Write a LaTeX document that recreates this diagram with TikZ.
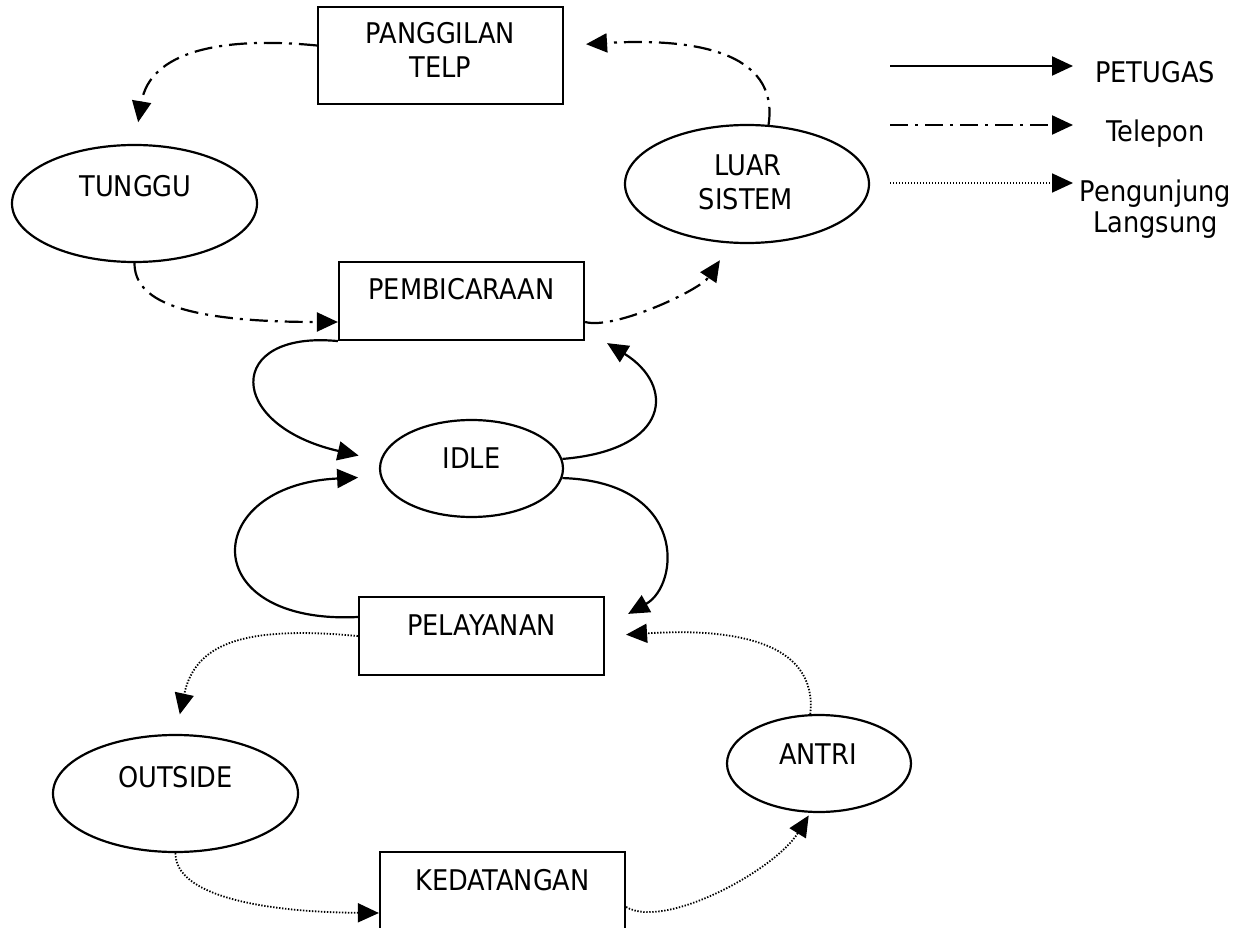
\documentclass[tikz,border=0pt]{standalone}
\usepackage{fontspec}
\setmainfont{DejaVu Sans Condensed}
\usetikzlibrary{arrows.meta,calc,shapes.geometric}

\begin{document}
\begin{tikzpicture}[x=1pt,y=-1pt,
  tipstyle/.style={-{Triangle[length=21pt,width=19pt]}},
  statebox/.style={draw, rectangle, line width=2.2pt, minimum width=245pt, minimum height=#1, inner sep=0pt},
  stateoval/.style 2 args={draw, ellipse, line width=2.2pt, minimum width=#1, minimum height=#2, inner sep=0pt},
  lbl/.style={font=\fontsize{28.5pt}{34pt}\selectfont, inner sep=0pt, anchor=base},
  petugas/.style={draw, line width=2.2pt, tipstyle},
  telepon/.style={draw, line width=2.2pt, dash pattern=on 18pt off 7pt on 3pt off 7pt, tipstyle},
  pengunjung/.style={draw, line width=1.8pt, dash pattern=on 1.4pt off 1.6pt, tipstyle}]

\useasboundingbox (0,0) rectangle (1235,928);

% states
\node[statebox=97pt] (pang) at (440.5,55.5) {};
\node[statebox=78pt] (pemb) at (461.5,301) {};
\node[statebox=78pt] (pel) at (481.5,636) {};
\node[statebox=78pt] (ked) at (502.5,891) {};
\node[stateoval={245pt}{117pt}] (tunggu) at (134.5,203.5) {};
\node[stateoval={244pt}{118pt}] (luar) at (747,184) {};
\node[stateoval={183pt}{97pt}] (idle) at (471.5,468.5) {};
\node[stateoval={245pt}{117pt}] (outside) at (175.5,793.5) {};
\node[stateoval={184pt}{97pt}] (antri) at (819,763.5) {};

% state names
\node[lbl] (pangA) at (440.5,44) {PANGGILAN};
\node[lbl] (pangB) at (440.5,78) {TELP};
\node[lbl] (pembT) at (461.5,300) {PEMBICARAAN};
\node[lbl] (pelT) at (481.5,635) {PELAYANAN};
\node[lbl] (kedT) at (502.5,890) {KEDATANGAN};
\node[lbl] (tungguT) at (135.5,197) {TUNGGU};
\node[lbl] (luarA) at (748,176) {LUAR};
\node[lbl] (luarB) at (746,210) {SISTEM};
\node[lbl] (idleT) at (471.5,468) {IDLE};
\node[lbl] (outsideT) at (175.5,787) {OUTSIDE};
\node[lbl] (antriT) at (818,764) {ANTRI};

% telephone flow
\draw[telepon, shorten >=22pt] ($(pang.west)+(0,-10)$) .. controls (220,36) and (150,52) .. (tunggu.north);
\draw[telepon, shorten >=22pt] (luar.70) .. controls (780,50) and (690,38) .. ($(pang.east)+(0,-10)$);
\draw[telepon] (tunggu.south) .. controls (134.5,300) and (180,322) .. ($(pemb.west)+(0,21)$);
\draw[telepon, shorten >=20pt] ($(pemb.east)+(0,21)$) .. controls (615,330) and (700,290) .. (luar.255);

% staff flow
\draw[petugas, shorten >=22pt] (pemb.south west) .. controls (225,330) and (225,425) .. (idle.175);
\draw[petugas, shorten >=22pt] ($(pel.west)+(0,-19)$) .. controls (195,625) and (200,485) .. (idle.185);
\draw[petugas] (idle.6) .. controls (672,450) and (675,385) .. ($(pemb.south east)+(22,2)$);
\draw[petugas] (idle.-6) .. controls (688,482) and (680,585) .. ($(pel.north east)+(23,18)$);

% walk-in visitor flow
\draw[pengunjung, shorten >=20pt] (pel.west) .. controls (240,625) and (195,645) .. (outside.north);
\draw[pengunjung, shorten >=21pt] (antri.100) .. controls (818,640) and (730,628) .. (pel.east);
\draw[pengunjung] (outside.south) .. controls (175,895) and (260,912) .. ($(ked.west)+(0,22)$);
\draw[pengunjung, shorten >=3pt] ($(ked.east)+(0,16)$) .. controls (665,930) and (775,870) .. (antri.260);

% legend
\coordinate (legAs) at (890,66);
\coordinate (legAe) at (1073,66);
\coordinate (legBs) at (890,125);
\coordinate (legBe) at (1073,125);
\coordinate (legCs) at (890,183);
\coordinate (legCe) at (1073,183);
\draw[petugas] (legAs) -- (legAe);
\draw[telepon] (legBs) -- (legBe);
\draw[pengunjung] (legCs) -- (legCe);
\node[lbl] (legAt) at (1155,83) {PETUGAS};
\node[lbl] (legBt) at (1155.5,142) {Telepon};
\node[lbl] (legCt) at (1155.5,202) {Pengunjung};
\node[lbl] (legDt) at (1155.5,233) {Langsung};
\end{tikzpicture}
\end{document}
